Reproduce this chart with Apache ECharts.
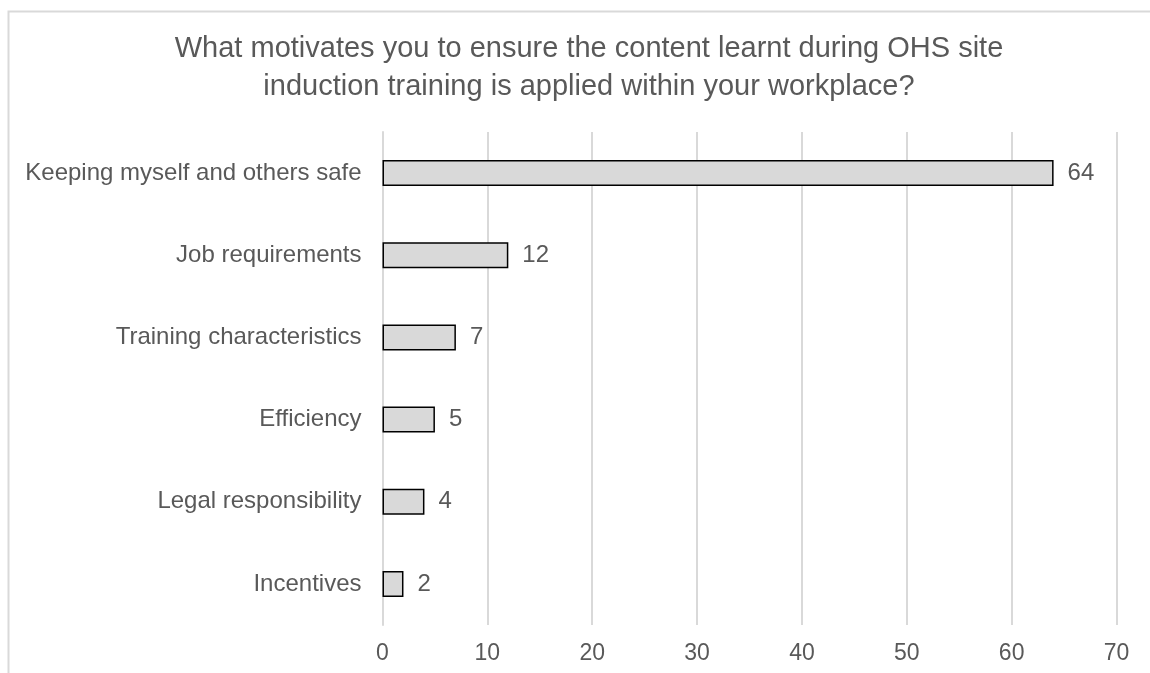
<!DOCTYPE html>
<html>
<head>
<meta charset="utf-8">
<script src="https://cdn.jsdelivr.net/npm/echarts@6/dist/echarts.min.js"></script>
<style>
  html, body { margin: 0; padding: 0; background: #fff; }
  #chart { width: 1150px; height: 673px; }
</style>
</head>
<body>
<div id="chart"></div>
<script>
// Survey responses: motivations for applying OHS induction content
const categories = [
  'Keeping myself and others safe',
  'Job requirements',
  'Training characteristics',
  'Efficiency',
  'Legal responsibility',
  'Incentives'
];
const counts = [64, 12, 7, 5, 4, 2];
const xTicks = [0, 10, 20, 30, 40, 50, 60, 70];

const FONT = '"Liberation Sans", Arial, sans-serif';
const TEXT = '#595959';

const chart = echarts.init(document.getElementById('chart'), null, { renderer: 'canvas' });
chart.setOption({
  backgroundColor: '#ffffff',
  animation: false,
  title: {
    text: 'What motivates you to ensure the content learnt during OHS site\ninduction training is applied within your workplace?',
    left: 584,
    top: 25,
    textAlign: 'center',
    textStyle: {
      fontFamily: FONT,
      fontSize: 29,
      fontWeight: 'normal',
      color: TEXT,
      lineHeight: 38
    }
  },
  graphic: [{
    type: 'rect',
    shape: { x: 8.5, y: 11.5, width: 1200, height: 700 },
    style: { fill: 'none', stroke: '#d9d9d9', lineWidth: 2 },
    silent: true,
    z: -1
  }],
  grid: { left: 382.5, right: 33.5, top: 132, bottom: 48, containLabel: false },
  xAxis: {
    type: 'value',
    min: xTicks[0],
    max: xTicks[xTicks.length - 1],
    interval: 10,
    axisLine: { show: false },
    axisTick: { show: false },
    axisLabel: { fontFamily: FONT, fontSize: 23, color: TEXT, margin: 17 },
    splitLine: { lineStyle: { color: '#d9d9d9', width: 2 } }
  },
  yAxis: {
    type: 'category',
    inverse: true,
    data: categories,
    axisLine: { show: true, lineStyle: { color: '#d9d9d9', width: 2 } },
    axisTick: { show: false },
    axisLabel: { fontFamily: FONT, fontSize: 24, color: TEXT, margin: 21 }
  },
  series: [{
    type: 'bar',
    data: counts,
    barWidth: 26,
    itemStyle: { color: '#d9d9d9', borderColor: '#000000', borderWidth: 1.5 },
    label: {
      show: true,
      position: 'right',
      distance: 14,
      fontFamily: FONT,
      fontSize: 24,
      color: TEXT
    }
  }]
});
</script>
</body>
</html>
